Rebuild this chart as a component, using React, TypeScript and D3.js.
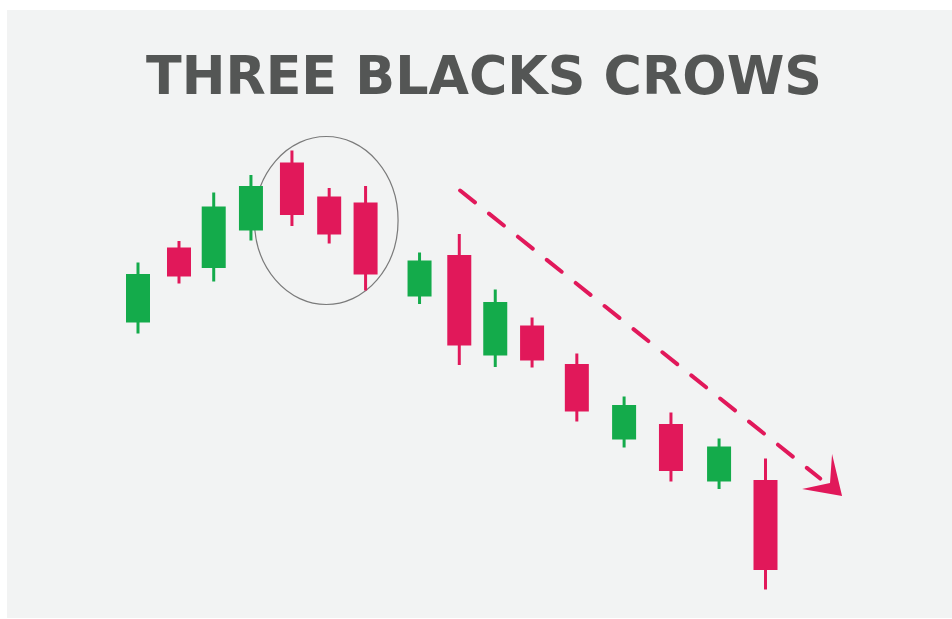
import React from "react";
import * as d3 from "d3";

const W = 952;
const H = 619;

// time position of each candle (session units)
const times = [0, 0.98, 1.81, 2.7, 3.68, 4.57, 5.44, 6.73, 7.68, 8.54, 9.42, 10.49, 11.62, 12.74, 13.89, 15];
const opens = [55.5, 70.5, 66.4, 73.9, 87.5, 80.7, 79.5, 60.7, 69.0, 48.9, 54.9, 47.2, 32.1, 35.2, 23.7, 24.0];
const closes = [65.2, 64.7, 78.7, 82.8, 77.0, 73.1, 65.1, 67.9, 50.9, 59.6, 47.9, 37.7, 39.0, 25.8, 30.7, 6.0];
const highs = [67.5, 71.8, 81.5, 85.0, 89.9, 82.4, 82.8, 69.5, 73.2, 62.1, 56.5, 49.3, 40.7, 37.5, 32.3, 28.3];
const lows = [53.3, 63.3, 63.7, 71.9, 74.8, 71.3, 61.9, 59.2, 47.0, 46.6, 46.5, 35.7, 30.5, 23.7, 22.2, 2.1];

const title = "THREE BLACKS CROWS";

// highlighted pattern: candles 5..7 (indices 4..6)
const patternStart = 4;
const patternEnd = 6;

// trend arrow in data units: from (time, price) to (time, price)
const trendFrom = [7.7, 81.9];
const trendTo = [16.83, 20.8];

const GREEN = "#14ab4b";
const RED = "#e1185a";

export default function App() {
  const x = d3.scaleLinear().domain([0, 15]).range([138, 765.5]);
  const y = d3.scaleLinear().domain([0, 100]).range([600, 100]);
  const bodyW = 24;

  const candles = times.map((t, i) => ({
    t,
    o: opens[i],
    c: closes[i],
    h: highs[i],
    l: lows[i],
  }));

  // ellipse around pattern
  const pat = candles.slice(patternStart, patternEnd + 1);
  const px0 = x(pat[0].t) - bodyW / 2;
  const px1 = x(pat[pat.length - 1].t) + bodyW / 2;
  const pyTop = y(d3.max(pat, (d) => d.h)!);
  const pyBot = y(d3.min(pat, (d) => d.l)!);
  const ecx = (px0 + px1) / 2 - 2.5;
  const ecy = (pyTop + pyBot) / 2;
  const erx = (px1 - px0) / 2 + 23;
  const ery = (pyBot - pyTop) / 2 + 14;

  const ax0 = x(trendFrom[0]);
  const ay0 = y(trendFrom[1]);
  const tipX = x(trendTo[0]);
  const tipY = y(trendTo[1]);
  const ang = Math.atan2(tipY - ay0, tipX - ax0);
  const len = Math.hypot(tipX - ax0, tipY - ay0);
  const lineLen = len - 28;
  const ax1 = ax0 + Math.cos(ang) * lineLen;
  const ay1 = ay0 + Math.sin(ang) * lineLen;

  // arrowhead (barbed) in local frame: tip at (0,0), pointing +x
  const head: [number, number][] = [
    [0, 0],
    [-34, -26.5],
    [-17.5, -2.6],
    [-35.6, 19.5],
  ];
  const headPath = d3.line()(head) + "Z";
  const angDeg = (ang * 180) / Math.PI;

  return (
    <svg
      width={W}
      height={H}
      style={{ position: "absolute", left: 0, top: 0, display: "block" }}
    >
      <rect x={0} y={0} width={W} height={H} fill="#ffffff" />
      <rect x={7} y={10} width={W - 7} height={H - 11} fill="#f2f3f3" />
      <text
        x={484}
        y={94}
        textAnchor="middle"
        fontFamily="'DejaVu Sans', sans-serif"
        fontWeight="bold"
        fontSize={53}
        fill="#545655"
        textLength={676}
        lengthAdjust="spacingAndGlyphs"
      >
        {title}
      </text>

      <ellipse
        cx={ecx}
        cy={ecy}
        rx={erx}
        ry={ery}
        fill="none"
        stroke="#7a7a7a"
        strokeWidth={1.2}
      />

      {candles.map((d, i) => {
        const up = d.c >= d.o;
        const col = up ? GREEN : RED;
        const cx = x(d.t);
        const top = y(Math.max(d.o, d.c));
        const bot = y(Math.min(d.o, d.c));
        return (
          <g key={i}>
            <line
              x1={cx}
              x2={cx}
              y1={y(d.h)}
              y2={y(d.l)}
              stroke={col}
              strokeWidth={3}
            />
            <rect
              x={cx - bodyW / 2}
              y={top}
              width={bodyW}
              height={bot - top}
              fill={col}
            />
          </g>
        );
      })}

      <line
        x1={ax0}
        y1={ay0}
        x2={ax1}
        y2={ay1}
        stroke={RED}
        strokeWidth={4}
        strokeLinecap="round"
        strokeDasharray="19 18"
      />
      <path
        d={headPath}
        fill={RED}
        transform={`translate(${tipX},${tipY}) rotate(${angDeg})`}
      />
    </svg>
  );
}
